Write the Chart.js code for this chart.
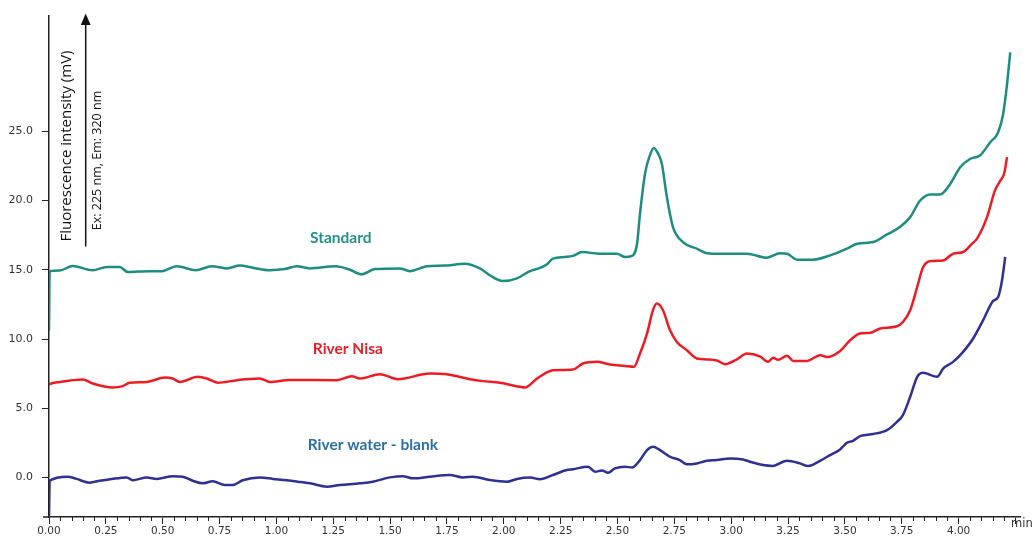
<!DOCTYPE html>
<html>
<head>
<meta charset="utf-8">
<script src="https://cdn.jsdelivr.net/npm/chart.js@4.4.1/dist/chart.umd.min.js"></script>
<style>
  html, body { margin: 0; padding: 0; background: #ffffff; }
  canvas { display: block; }
</style>
</head>
<body>
<canvas id="chart" width="1033" height="536"></canvas>
<script>
// Retention time (min) and fluorescence signal (mV) for each trace
const standardTime = [0, 0.003, 0.047, 0.104, 0.192, 0.254, 0.311, 0.346, 0.443, 0.496, 0.562, 0.645, 0.716, 0.782, 0.839, 0.896, 0.971, 1.037, 1.09, 1.147, 1.261, 1.323, 1.376, 1.433, 1.543, 1.587, 1.662, 1.741, 1.829, 1.895, 1.939, 1.996, 2.058, 2.115, 2.159, 2.19, 2.216, 2.269, 2.304, 2.344, 2.423, 2.498, 2.533, 2.564, 2.586, 2.599, 2.621, 2.643, 2.66, 2.678, 2.695, 2.717, 2.744, 2.788, 2.849, 2.893, 2.951, 3.069, 3.157, 3.215, 3.246, 3.29, 3.36, 3.435, 3.509, 3.554, 3.624, 3.685, 3.742, 3.787, 3.831, 3.875, 3.919, 3.963, 4.007, 4.05, 4.094, 4.139, 4.174, 4.196, 4.213, 4.227];
const standardValue = [10.6, 14.9, 14.95, 15.27, 14.96, 15.2, 15.2, 14.84, 14.9, 14.9, 15.25, 14.97, 15.25, 15.1, 15.3, 15.15, 14.97, 15.05, 15.25, 15.1, 15.25, 15.0, 14.67, 15.05, 15.1, 14.9, 15.25, 15.3, 15.44, 15.1, 14.6, 14.19, 14.38, 14.9, 15.13, 15.4, 15.8, 15.92, 16.0, 16.28, 16.16, 16.16, 15.92, 16.0, 16.88, 19.05, 21.93, 23.3, 23.8, 23.4, 22.65, 20.25, 18.08, 17.0, 16.52, 16.2, 16.16, 16.16, 15.87, 16.2, 16.16, 15.73, 15.73, 16.04, 16.52, 16.88, 17.0, 17.55, 18.08, 18.8, 20.0, 20.44, 20.44, 21.2, 22.4, 23.0, 23.25, 24.2, 24.93, 26.25, 28.4, 30.7];

const nisaTime = [0, 0.003, 0.047, 0.148, 0.192, 0.28, 0.324, 0.355, 0.43, 0.509, 0.544, 0.575, 0.654, 0.694, 0.742, 0.826, 0.927, 0.971, 1.059, 1.266, 1.332, 1.367, 1.455, 1.534, 1.675, 1.75, 1.851, 1.908, 1.983, 2.071, 2.093, 2.146, 2.194, 2.216, 2.304, 2.348, 2.409, 2.467, 2.533, 2.572, 2.599, 2.63, 2.656, 2.673, 2.7, 2.731, 2.761, 2.805, 2.849, 2.893, 2.937, 2.973, 3.025, 3.069, 3.126, 3.162, 3.184, 3.206, 3.246, 3.272, 3.334, 3.391, 3.422, 3.479, 3.523, 3.567, 3.611, 3.655, 3.729, 3.755, 3.787, 3.818, 3.844, 3.884, 3.932, 3.976, 4.02, 4.059, 4.081, 4.125, 4.16, 4.182, 4.2, 4.213];
const nisaValue = [6.7, 6.74, 6.9, 7.08, 6.79, 6.5, 6.6, 6.84, 6.9, 7.22, 7.15, 6.9, 7.27, 7.15, 6.84, 7.03, 7.15, 6.9, 7.05, 7.03, 7.32, 7.15, 7.46, 7.1, 7.51, 7.45, 7.1, 6.96, 6.84, 6.55, 6.5, 7.15, 7.63, 7.75, 7.8, 8.23, 8.35, 8.16, 8.06, 8.0, 8.95, 10.4, 12.08, 12.56, 12.08, 10.63, 9.79, 9.19, 8.59, 8.53, 8.45, 8.18, 8.53, 8.95, 8.75, 8.35, 8.65, 8.5, 8.8, 8.42, 8.42, 8.83, 8.7, 9.14, 9.91, 10.4, 10.45, 10.76, 10.92, 11.23, 12.08, 13.76, 15.2, 15.63, 15.67, 16.16, 16.28, 16.88, 17.25, 18.8, 20.73, 21.4, 21.93, 23.13];

const blankTime = [0, 0.003, 0.082, 0.121, 0.179, 0.223, 0.267, 0.342, 0.368, 0.43, 0.474, 0.544, 0.588, 0.632, 0.676, 0.72, 0.773, 0.808, 0.852, 0.927, 0.985, 1.046, 1.094, 1.147, 1.222, 1.279, 1.367, 1.424, 1.499, 1.556, 1.6, 1.675, 1.763, 1.82, 1.864, 1.939, 2.014, 2.058, 2.115, 2.159, 2.216, 2.277, 2.304, 2.37, 2.401, 2.432, 2.458, 2.489, 2.533, 2.564, 2.599, 2.63, 2.656, 2.687, 2.731, 2.774, 2.805, 2.849, 2.893, 2.937, 2.995, 3.052, 3.082, 3.14, 3.184, 3.228, 3.246, 3.303, 3.338, 3.391, 3.435, 3.479, 3.509, 3.536, 3.567, 3.624, 3.685, 3.729, 3.755, 3.787, 3.818, 3.844, 3.906, 3.932, 3.976, 4.02, 4.064, 4.108, 4.152, 4.174, 4.191, 4.205];
const blankValue = [-2.9, -0.23, 0.06, -0.1, -0.37, -0.23, -0.13, 0.01, -0.2, 0.0, -0.1, 0.1, 0.06, -0.23, -0.42, -0.26, -0.54, -0.54, -0.2, 0.0, -0.1, -0.2, -0.3, -0.42, -0.66, -0.54, -0.42, -0.3, 0.01, 0.1, -0.06, 0.06, 0.18, 0.01, 0.06, -0.18, -0.3, -0.1, 0.0, -0.12, 0.18, 0.54, 0.6, 0.78, 0.42, 0.5, 0.35, 0.66, 0.78, 0.72, 1.26, 1.98, 2.22, 1.98, 1.5, 1.26, 0.95, 1.02, 1.21, 1.26, 1.38, 1.3, 1.14, 0.9, 0.84, 1.14, 1.21, 1.02, 0.83, 1.21, 1.62, 2.03, 2.51, 2.65, 2.99, 3.14, 3.42, 4.02, 4.5, 5.83, 7.27, 7.56, 7.27, 7.87, 8.35, 9.07, 10.04, 11.36, 12.75, 13.04, 14.24, 15.92];

// Trace names and where their captions sit (time, signal)
const seriesNames = ['Standard', 'River Nisa', 'River water - blank'];
const captionTime = [1.283, 1.314, 1.424];
const captionValue = [17.27, 9.26, 2.34];

// Axis ticks
const yTickValues = [0, 5, 10, 15, 20, 25];
const xMajorStep = 0.25;
const xMinorStep = 0.05;
const xTickEnd = 4.25;

const lineColors = ['#1f8c81', '#ec1c24', '#2e3192'];
const captionColors = ['#24928a', '#e91d25', '#2a6fa6'];

function toPoints(times, values) {
  return times.map((t, i) => ({ x: t, y: values[i] }));
}

const traces = [
  toPoints(standardTime, standardValue),
  toPoints(nisaTime, nisaValue),
  toPoints(blankTime, blankValue)
];

function isMajor(v) {
  const r = v / xMajorStep;
  return Math.abs(r - Math.round(r)) < 1e-6;
}

const xTickList = [];
for (let i = 0; i * xMinorStep <= xTickEnd + 1e-9; i++) {
  xTickList.push(Math.round(i * xMinorStep * 100) / 100);
}

const annotations = {
  id: 'annotations',
  afterDraw(chart) {
    const ctx = chart.ctx;
    const xs = chart.scales.x;
    const ys = chart.scales.y;
    const area = chart.chartArea;
    ctx.save();

    // short minor tick marks under the time axis
    ctx.strokeStyle = '#222';
    ctx.lineWidth = 1;
    xTickList.forEach(v => {
      if (isMajor(v)) return;
      const px = Math.round(xs.getPixelForValue(v)) + 0.5;
      ctx.beginPath();
      ctx.moveTo(px, area.bottom);
      ctx.lineTo(px, area.bottom + 4);
      ctx.stroke();
    });

    // time axis runs a little past the signal axis on the left
    ctx.lineWidth = 1.5;
    ctx.beginPath();
    ctx.moveTo(area.left - 6, area.bottom);
    ctx.lineTo(area.left, area.bottom);
    ctx.stroke();

    // unit at the end of the time axis
    ctx.fillStyle = '#333';
    ctx.font = '11.5px "DejaVu Sans"';
    ctx.textAlign = 'left';
    ctx.textBaseline = 'top';
    ctx.fillText('min', area.right - 9, area.bottom + 1);

    // vertical axis title
    ctx.save();
    ctx.translate(66.5, 146);
    ctx.rotate(-Math.PI / 2);
    ctx.fillStyle = '#111';
    ctx.font = '15px "Open Sans"';
    ctx.textAlign = 'center';
    ctx.textBaseline = 'middle';
    ctx.fillText('Fluorescence intensity (mV)', 0, 0);
    ctx.restore();

    // detection wavelengths beside the arrow
    ctx.save();
    ctx.translate(97, 160.5);
    ctx.rotate(-Math.PI / 2);
    ctx.fillStyle = '#111';
    ctx.font = '12.5px "Open Sans"';
    ctx.textAlign = 'center';
    ctx.textBaseline = 'middle';
    ctx.fillText('Ex: 225 nm, Em: 320 nm', 0, 0);
    ctx.restore();

    // upward arrow
    ctx.strokeStyle = '#111';
    ctx.fillStyle = '#111';
    ctx.lineWidth = 1.5;
    ctx.beginPath();
    ctx.moveTo(85.7, 246.5);
    ctx.lineTo(85.7, 22);
    ctx.stroke();
    ctx.beginPath();
    ctx.moveTo(85.7, 13.5);
    ctx.lineTo(80.8, 25);
    ctx.lineTo(90.6, 25);
    ctx.closePath();
    ctx.fill();

    // trace captions
    ctx.font = 'bold 15.5px Lato';
    ctx.textAlign = 'center';
    ctx.textBaseline = 'middle';
    seriesNames.forEach((name, i) => {
      ctx.fillStyle = captionColors[i];
      ctx.fillText(name, xs.getPixelForValue(captionTime[i]), ys.getPixelForValue(captionValue[i]));
    });

    ctx.restore();
  }
};

new Chart(document.getElementById('chart'), {
  type: 'line',
  data: {
    datasets: traces.map((pts, i) => ({
      label: seriesNames[i],
      data: pts,
      borderColor: lineColors[i],
      borderWidth: 2.5,
      pointRadius: 0,
      fill: false,
      cubicInterpolationMode: 'monotone'
    }))
  },
  options: {
    responsive: false,
    animation: false,
    events: [],
    layout: { padding: { top: 15, right: 13, left: 0, bottom: 0 } },
    plugins: { legend: { display: false }, tooltip: { enabled: false } },
    scales: {
      x: {
        type: 'linear',
        min: 0,
        max: 4.27,
        afterBuildTicks(scale) {
          scale.ticks = xTickList.map(v => ({ value: v }));
        },
        afterFit(scale) { scale.height = 19; },
        border: { display: true, color: '#222', width: 1.5 },
        grid: {
          drawOnChartArea: false,
          drawTicks: true,
          tickLength: 7,
          tickWidth: 1,
          tickColor: ctx => (ctx.tick && isMajor(ctx.tick.value)) ? '#222' : 'rgba(0,0,0,0)'
        },
        ticks: {
          autoSkip: false,
          maxRotation: 0,
          minRotation: 0,
          padding: 1,
          color: '#333',
          font: { family: '"DejaVu Sans"', size: 10.5 },
          callback: v => (isMajor(v) && v < 4.24) ? v.toFixed(2) : ''
        }
      },
      y: {
        type: 'linear',
        min: -2.85,
        max: 33.35,
        afterBuildTicks(scale) {
          scale.ticks = yTickValues.map(v => ({ value: v }));
        },
        afterFit(scale) { scale.width = 49; },
        border: { display: true, color: '#222', width: 1.5 },
        grid: {
          drawOnChartArea: false,
          drawTicks: true,
          tickLength: 7,
          tickColor: '#222'
        },
        ticks: {
          padding: 9,
          color: '#333',
          font: { family: '"DejaVu Sans"', size: 11 },
          callback: v => v.toFixed(1)
        }
      }
    }
  },
  plugins: [annotations]
});
</script>
</body>
</html>
